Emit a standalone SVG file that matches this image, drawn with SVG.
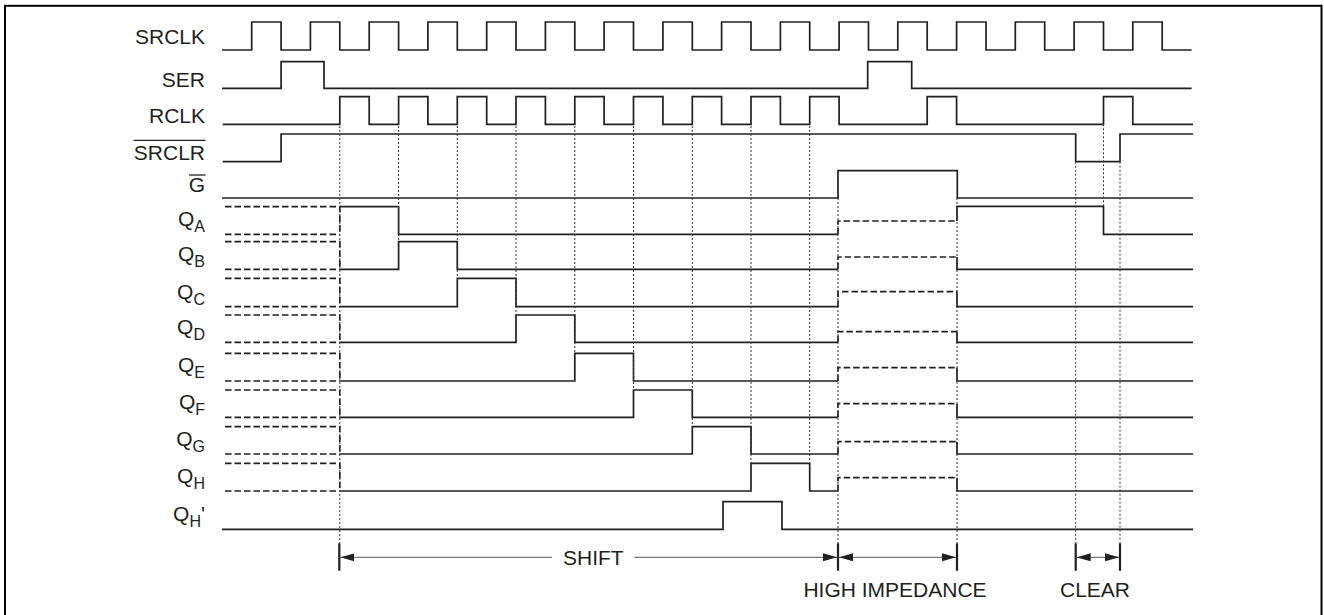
<svg xmlns="http://www.w3.org/2000/svg" width="1324" height="615" viewBox="0 0 1324 615">
<style>
.lbl{font-family:"Liberation Sans",Arial,sans-serif;font-size:21px;fill:#231f20;text-anchor:end}
.sub{font-size:16px}
.btxt{font-family:"Liberation Sans",Arial,sans-serif;font-size:21px;fill:#231f20;text-anchor:middle}
.w{fill:none;stroke:#231f20;stroke-width:1.7;stroke-linejoin:miter}
.d{fill:none;stroke:#231f20;stroke-width:1.7;stroke-dasharray:6.5 3}
.dot{fill:none;stroke:#333;stroke-width:1;stroke-dasharray:2 2}
.ov{stroke:#231f20;stroke-width:1.3}
.tick{stroke:#231f20;stroke-width:2.2}
.arr{stroke:#555;stroke-width:1;fill:none}
</style>
<defs>
<marker id="ah" viewBox="0 0 14 8" refX="14" refY="4" markerWidth="14" markerHeight="8" markerUnits="userSpaceOnUse" orient="auto-start-reverse">
<path d="M0,0 L14,4 L0,8 z" fill="#231f20"/>
</marker>
</defs>
<rect x="5" y="5.8" width="1316.5" height="620" fill="#fff" stroke="#000" stroke-width="2"/>

<g id="sig-SRCLK">
<text class="lbl" x="205" y="43.5">SRCLK</text>
<path class="w" d="M222,50 H251.7 V22 H281.1 V50 H310.4 V22 H339.8 V50 H369.2 V22 H398.6 V50 H427.9 V22 H457.3 V50 H486.7 V22 H516 V50 H545.4 V22 H574.8 V50 H604.1 V22 H633.5 V50 H662.9 V22 H692.3 V50 H721.6 V22 H751 V50 H780.4 V22 H809.7 V50 H839.1 V22 H868.5 V50 H897.8 V22 H927.2 V50 H956.6 V22 H986 V50 H1015.3 V22 H1044.7 V50 H1074.1 V22 H1103.5 V50 H1132.8 V22 H1162.2 V50 H1191.6"/>
</g>
<g id="sig-SER">
<text class="lbl" x="205" y="86.5">SER</text>
<path class="w" d="M222,88.3 H281.1 V61.7 H324 V88.3 H867.7 V61.7 H911.7 V88.3 H1191.6"/>
</g>
<g id="sig-RCLK">
<text class="lbl" x="205" y="122.5">RCLK</text>
<path class="w" d="M222.7,124.3 H339.8 V96.7 H369.2 V124.3 H398.6 V96.7 H427.9 V124.3 H457.3 V96.7 H486.7 V124.3 H516 V96.7 H545.4 V124.3 H574.8 V96.7 H604.1 V124.3 H633.5 V96.7 H662.9 V124.3 H692.3 V96.7 H721.6 V124.3 H751 V96.7 H780.4 V124.3 H809.7 V96.7 H839.1 V124.3 H927.2 V96.7 H956.6 V124.3 H1103.5 V96.7 H1132.8 V124.3 H1193"/>
</g>
<g id="sig-SRCLR">
<text class="lbl" x="205" y="159.5">SRCLR</text>
<line class="ov" x1="133.5" y1="140.3" x2="205.5" y2="140.3"/>
<path class="w" d="M222.7,161.7 H281.1 V134 H1075.7 V161.7 H1120 V134 H1193"/>
</g>
<g id="sig-G">
<text class="lbl" x="205" y="191.5">G</text>
<line class="ov" x1="189" y1="175" x2="205.5" y2="175"/>
<path class="w" d="M222,198 H838 V170.7 H957.3 V198 H1193"/>
</g>

<g id="sig-QA">
<text class="lbl" x="205" y="226.3">Q<tspan class="sub" dy="6">A</tspan></text>
<path class="d" d="M225,206.7 H339.8 V234.3 M225,234.3 H339.8 M838,234.3 V221 H957"/>
<path class="w" d="M339.8,206.7 H398.6 V234.3 H838 M957,221 V206.3 H1103.5 V234.3 H1193"/>
</g>
<g id="sig-QB">
<text class="lbl" x="205" y="261.3">Q<tspan class="sub" dy="6">B</tspan></text>
<path class="d" d="M225,241.7 H339.8 V269.3 M225,269.3 H339.8 M838,269.3 V257 H957"/>
<path class="w" d="M339.8,269.3 H398.6 V241.7 H457.3 V269.3 H838 M957,257 V269.3 H1193"/>
</g>
<g id="sig-QC">
<text class="lbl" x="205" y="298.7">Q<tspan class="sub" dy="6">C</tspan></text>
<path class="d" d="M225,278.3 H339.8 V306.7 M225,306.7 H339.8 M838,306.7 V291.7 H957"/>
<path class="w" d="M339.8,306.7 H457.3 V278.3 H516 V306.7 H838 M957,291.7 V306.7 H1193"/>
</g>
<g id="sig-QD">
<text class="lbl" x="205" y="334.3">Q<tspan class="sub" dy="6">D</tspan></text>
<path class="d" d="M225,315 H339.8 V342.3 M225,342.3 H339.8 M838,342.3 V331.7 H957"/>
<path class="w" d="M339.8,342.3 H516 V315 H574.8 V342.3 H838 M957,331.7 V342.3 H1193"/>
</g>
<g id="sig-QE">
<text class="lbl" x="205" y="372">Q<tspan class="sub" dy="6">E</tspan></text>
<path class="d" d="M225,353.3 H339.8 V381 M225,381 H339.8 M838,381 V367.7 H957"/>
<path class="w" d="M339.8,381 H574.8 V353.3 H633.5 V381 H838 M957,367.7 V381 H1193"/>
</g>
<g id="sig-QF">
<text class="lbl" x="205" y="409.3">Q<tspan class="sub" dy="6">F</tspan></text>
<path class="d" d="M225,390 H339.8 V417.3 M225,417.3 H339.8 M838,417.3 V403.7 H957"/>
<path class="w" d="M339.8,417.3 H633.5 V390 H692.3 V417.3 H838 M957,403.7 V417.3 H1193"/>
</g>
<g id="sig-QG">
<text class="lbl" x="205" y="446">Q<tspan class="sub" dy="6">G</tspan></text>
<path class="d" d="M225,426.7 H339.8 V454 M225,454 H339.8 M838,454 V441.7 H957"/>
<path class="w" d="M339.8,454 H692.3 V426.7 H751 V454 H838 M957,441.7 V454 H1193"/>
</g>
<g id="sig-QH">
<text class="lbl" x="205" y="483">Q<tspan class="sub" dy="6">H</tspan></text>
<path class="d" d="M225,463.3 H339.8 V491 M225,491 H339.8 M838,491 V477.7 H957"/>
<path class="w" d="M339.8,491 H751 V463.3 H809.7 V491 H838 M957,477.7 V491 H1193"/>
</g>
<g id="sig-QHp">
<text class="lbl" x="205" y="521.3">Q<tspan class="sub" dy="6">H</tspan><tspan dy="-6">'</tspan></text>
<path class="w" d="M222,529.3 H723 V501.7 H782 V529.3 H1193"/>
</g>

<g id="connectors">
<path class="dot" d="M339.8,126 V543 M398.6,126 V241.7 M457.3,126 V278.3 M516,126 V315 M574.8,126 V353.3 M633.5,126 V390 M692.3,126 V426.7 M751,126 V463.3 M809.7,126 V463.3 M838,198 V543 M957,198 V543 M1075.7,161.7 V543 M1103.5,124.3 V206 M1120,161.7 V543"/>
<path class="tick" d="M339.3,543.3 V570.7 M838,543.3 V570.7 M957,543.3 V570.7 M1075.7,543.3 V570.7 M1120,543.3 V570.7"/>
<line class="arr" x1="552" y1="557.3" x2="340.4" y2="557.3" marker-end="url(#ah)"/>
<line class="arr" x1="634.3" y1="557.3" x2="837" y2="557.3" marker-end="url(#ah)"/>
<line class="arr" x1="839" y1="557.3" x2="956" y2="557.3" marker-start="url(#ah)" marker-end="url(#ah)"/>
<line class="arr" x1="1076.7" y1="557.3" x2="1119" y2="557.3" marker-start="url(#ah)" marker-end="url(#ah)"/>
<text class="btxt" x="593.3" y="565">SHIFT</text>
<text class="btxt" x="895" y="596.5">HIGH IMPEDANCE</text>
<text class="btxt" x="1095" y="596.5">CLEAR</text>
</g>
</svg>
